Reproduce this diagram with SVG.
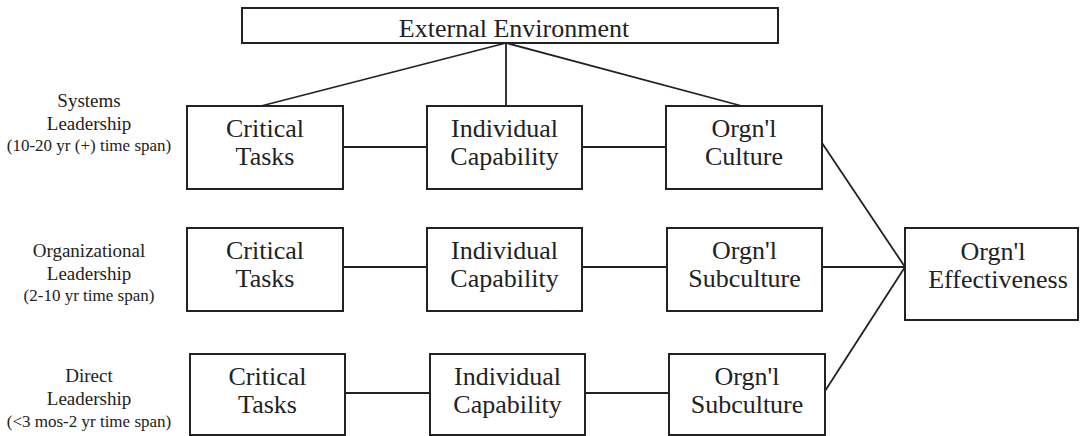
<svg xmlns="http://www.w3.org/2000/svg" width="1082" height="436" viewBox="0 0 1082 436">
<style>
.box{fill:#fff;stroke:#222;stroke-width:2}
.ln{stroke:#222;stroke-width:1.8;fill:none}
.t{font-family:'Liberation Serif','DejaVu Serif',serif;font-size:26px;fill:#222;text-anchor:middle}
.lab{font-family:'Liberation Serif','DejaVu Serif',serif;font-size:19px;fill:#222;text-anchor:middle}
.sm{font-size:17px}
</style>
<rect width="1082" height="436" fill="#fff"/>
<g id="connectors">
<line class="ln" x1="506" y1="43" x2="261" y2="106"/>
<line class="ln" x1="506" y1="43" x2="506" y2="106"/>
<line class="ln" x1="506" y1="43" x2="742" y2="106"/>
<line class="ln" x1="343" y1="147" x2="427" y2="147"/>
<line class="ln" x1="582" y1="147" x2="666" y2="147"/>
<line class="ln" x1="343" y1="267" x2="427" y2="267"/>
<line class="ln" x1="582" y1="267" x2="667" y2="267"/>
<line class="ln" x1="345" y1="393" x2="430" y2="393"/>
<line class="ln" x1="585" y1="393" x2="669" y2="393"/>
<line class="ln" x1="822" y1="143" x2="905" y2="267"/>
<line class="ln" x1="822" y1="267" x2="905" y2="267"/>
<line class="ln" x1="825" y1="391" x2="905" y2="267"/>
</g>
<g id="external">
<rect class="box" x="242" y="8" width="536" height="35"/>
<text class="t" x="514" y="37" font-family="Liberation Serif, serif">External Environment</text>
</g>
<g id="label-systems">
<text class="lab" x="89" y="107">Systems</text>
<text class="lab" x="89" y="130">Leadership</text>
<text class="lab sm" x="89" y="151">(10-20 yr (+) time span)</text>
</g>
<g id="label-organizational">
<text class="lab" x="89" y="257">Organizational</text>
<text class="lab" x="89" y="280">Leadership</text>
<text class="lab sm" x="89" y="301">(2-10 yr time span)</text>
</g>
<g id="label-direct">
<text class="lab" x="89" y="382">Direct</text>
<text class="lab" x="89" y="405">Leadership</text>
<text class="lab sm" x="89" y="427">(&lt;3 mos-2 yr time span)</text>
</g>
<g id="sys-tasks">
<rect class="box" x="187" y="106" width="156" height="83"/>
<text class="t" x="265" y="137">Critical</text>
<text class="t" x="265" y="165">Tasks</text>
</g>
<g id="sys-capability">
<rect class="box" x="427" y="106" width="155" height="83"/>
<text class="t" x="504.5" y="137">Individual</text>
<text class="t" x="504.5" y="165">Capability</text>
</g>
<g id="sys-culture">
<rect class="box" x="666" y="106" width="156" height="83"/>
<text class="t" x="744" y="137">Orgn'l</text>
<text class="t" x="744" y="165">Culture</text>
</g>
<g id="org-tasks">
<rect class="box" x="187" y="228" width="156" height="83"/>
<text class="t" x="265" y="259">Critical</text>
<text class="t" x="265" y="287">Tasks</text>
</g>
<g id="org-capability">
<rect class="box" x="427" y="228" width="155" height="83"/>
<text class="t" x="504.5" y="259">Individual</text>
<text class="t" x="504.5" y="287">Capability</text>
</g>
<g id="org-subculture">
<rect class="box" x="667" y="228" width="155" height="83"/>
<text class="t" x="744.5" y="259">Orgn'l</text>
<text class="t" x="744.5" y="287">Subculture</text>
</g>
<g id="dir-tasks">
<rect class="box" x="190" y="354" width="155" height="81"/>
<text class="t" x="267.5" y="385">Critical</text>
<text class="t" x="267.5" y="413">Tasks</text>
</g>
<g id="dir-capability">
<rect class="box" x="430" y="354" width="155" height="81"/>
<text class="t" x="507.5" y="385">Individual</text>
<text class="t" x="507.5" y="413">Capability</text>
</g>
<g id="dir-subculture">
<rect class="box" x="669" y="354" width="156" height="81"/>
<text class="t" x="747" y="385">Orgn'l</text>
<text class="t" x="747" y="413">Subculture</text>
</g>
<g id="effectiveness">
<rect class="box" x="905" y="228" width="173" height="92"/>
<text class="t" x="993" y="260">Orgn'l</text>
<text class="t" x="998" y="288">Effectiveness</text>
</g>
</svg>
